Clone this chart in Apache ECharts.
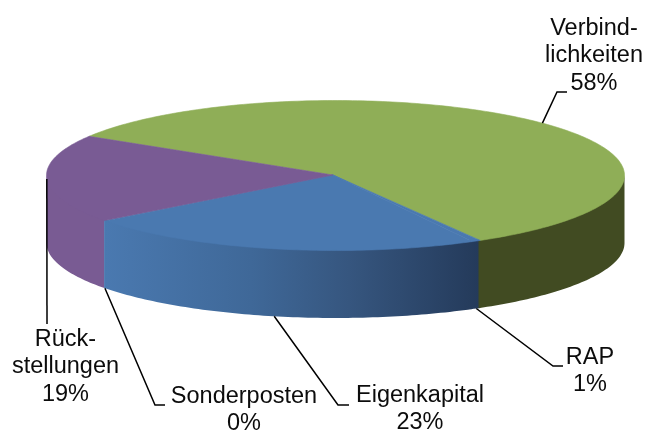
<!DOCTYPE html>
<html>
<head>
<meta charset="utf-8">
<style>html,body{margin:0;padding:0;background:#fff}#c{width:647px;height:431px}</style>
<script src="https://cdn.jsdelivr.net/npm/echarts@6/dist/echarts.min.js"></script>
</head>
<body>
<div id="c"></div>
<script>
// data
const categories = ['Verbind-\nlichkeiten', 'RAP', 'Eigenkapital', 'Sonderposten', 'Rück-\nstellungen'];
const shares = [57.9, 0.5, 22.5, 0.1, 19.0];

// styles
const topColors = ['#8fae57', '#4a79b0', '#4a79b0', '#4a79b0', '#795b94'];
const blueWall = { type: 'linear', x: 105, y: 0, x2: 480, y2: 0, global: true, colorStops: [
  { offset: 0, color: '#4a79b0' }, { offset: 0.39, color: '#3f6898' },
  { offset: 0.65, color: '#36567f' }, { offset: 1, color: '#243a5a' }] };
const wallColors = ['#414b22', blueWall, blueWall, blueWall, '#795b93'];

// layout
const CX = 335.5, CY = 175.5, RX = 289, RY = 75, DEPTH = 67.5, START = -58.5;
const APEX = [333, 175];
const labelCenters = [[594, 56], [590, 371], [420, 409], [244, 410], [65.5, 367]];
const leaderElbows = [[[557, 92], [567, 92]], [[553, 366], [563, 366]], [[338, 405], [349, 405]], [[155, 405], [165, 405]], [[47, 324]]];
const anchorOnBottom = [false, true, true, true, false];

const total = shares.reduce((a, b) => a + b, 0);
const bounds = [START];
shares.forEach((v, i) => bounds.push(bounds[i] + v / total * 360));
const rad = d => d * Math.PI / 180;
const pt = (deg, dz) => [CX + RX * Math.sin(rad(deg)), CY - RY * Math.cos(rad(deg)) + dz];
function arc(a, b, dz) {
  const out = [], n = Math.max(1, Math.ceil(Math.abs(b - a)));
  for (let k = 0; k <= n; k++) out.push(pt(a + (b - a) * k / n, dz));
  return out;
}

function renderWall(params) {
  const i = params.dataIndex;
  // the blue walls run on under each other, and all run up under the top face, so that no seam shows
  const a = Math.max(bounds[i], 90), b = Math.min(bounds[i + 1] + (i < 3 ? 0.4 : 0), 270);
  if (b <= a) return { type: 'group', children: [] };
  const points = arc(a, b, -1.5).concat(arc(b, a, DEPTH));
  return { type: 'polygon', z2: i === 4 ? 0 : 10 - i, shape: { points }, style: { fill: wallColors[i] } };
}
function renderTop(params) {
  const i = params.dataIndex;
  const points = [APEX].concat(arc(bounds[i], bounds[i + 1], 0));
  return { type: 'polygon', shape: { points }, style: { fill: topColors[i], stroke: topColors[i], lineWidth: 0.6 } };
}
function renderLabel(params, api) {
  const i = params.dataIndex;
  const mid = (bounds[i] + bounds[i + 1]) / 2;
  const p = pt(mid, anchorOnBottom[i] ? DEPTH : 0);
  const pct = Math.round(api.value(0)) + '%';
  return { type: 'group', children: [
    { type: 'polyline', shape: { points: [p].concat(leaderElbows[i]) },
      style: { fill: 'none', stroke: '#000', lineWidth: 1.5 } },
    { type: 'text', x: labelCenters[i][0], y: labelCenters[i][1], style: {
        text: categories[i] + '\n' + pct, fill: '#0c0c0c', align: 'center', verticalAlign: 'middle',
        font: '23.5px "Liberation Sans", Arial, sans-serif', lineHeight: 27.5 } }
  ] };
}

const chart = echarts.init(document.getElementById('c'), null, { renderer: 'canvas' });
chart.setOption({
  animation: false,
  backgroundColor: '#fff',
  series: [
    { type: 'custom', coordinateSystem: 'none', name: 'Seiten', z: 1, data: shares, renderItem: renderWall, silent: true },
    { type: 'custom', coordinateSystem: 'none', name: 'Oberseite', z: 2, data: shares, renderItem: renderTop, silent: true },
    { type: 'custom', coordinateSystem: 'none', name: 'Beschriftung', z: 3, data: shares, renderItem: renderLabel, silent: true }
  ]
});
</script>
</body>
</html>
